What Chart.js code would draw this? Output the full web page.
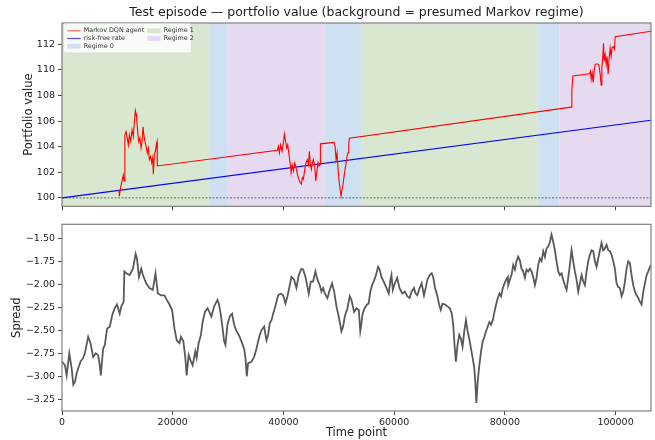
<!DOCTYPE html>
<html lang="en">
<head>
<meta charset="UTF-8">
<title>Test episode - portfolio value</title>
<style>
    * { margin: 0; padding: 0; }
    body { background: #fff; width: 655px; height: 440px; position: relative; overflow: hidden; }
    #top { position: absolute; left: 0; top: 0; }
    #bottom { position: absolute; left: 0; top: 215px; }
</style>
</head>
<body>
<canvas id="top" width="655" height="215"></canvas>
<canvas id="bottom" width="655" height="225"></canvas>
<script src="https://cdn.jsdelivr.net/npm/chart.js@4.4.0/dist/chart.umd.min.js"></script>
<script>
    // portfolio value of the agent (time point, value)
    var agentT = [10300, 10360, 10600, 10840, 11080, 11200, 11330, 11380, 11570, 11800, 11990, 12170, 12410, 12650, 12890,
        13070, 13250, 13370, 13490, 13680, 13860, 14090, 14280, 14460, 14640, 14820, 15000, 15180, 15420, 15600, 15780,
        16020, 16210, 16390, 16500, 16680, 16860, 17040, 17170, 17220,
        38910, 39090, 39270, 39510, 39750, 39990, 40170, 40350, 40600, 40780, 40960, 41200, 41380, 41560, 41800, 42050,
        42280, 42520, 42770, 43010, 43240, 43420, 43600, 43860, 44090, 44330, 44510, 44690, 44870, 45050, 45230, 45410,
        45660, 45840, 46020, 46260, 46440, 46620, 46680, 49150, 49330, 49510, 49690, 49870, 50050, 50230, 50420, 50600,
        50780, 50960, 51140, 51320, 51500, 51680, 51800, 51920,
        91980, 92100, 92280, 95290, 95470, 95590, 95770, 95950, 96130, 96310, 96610, 96980, 97220, 97400, 97520, 97700,
        97820, 97940, 98120, 98300, 98480, 98660, 98840, 99020, 99200, 99380, 99620, 99800, 99930, 106400];
    var agentV = [100.59, 100.13, 100.82, 101.33, 101.79, 101.33, 101.79, 104.91, 105.17, 104.66, 104.14, 104.91, 104.40, 105.30, 104.79,
        105.94, 106.83, 106.58, 106.19, 105.17, 104.40, 104.66, 103.89, 104.40, 105.56, 104.79, 104.40, 104.02, 103.51, 103.89, 102.99,
        103.25, 102.74, 103.12, 101.84, 103.38, 103.64, 104.14, 104.40, 102.49,
        103.71, 104.02, 103.51, 104.14, 103.64, 104.27, 104.99, 104.53, 103.89, 104.14, 103.51, 102.74, 101.97, 102.61, 102.10, 102.74,
        102.36, 101.84, 101.46, 101.20, 101.07, 101.59, 101.46, 102.23, 102.74, 102.99, 102.61, 103.64, 102.61, 102.23, 102.74, 102.99,
        102.49, 101.33, 101.97, 102.74, 102.49, 102.61, 104.22, 104.33, 104.02, 102.99, 103.51, 102.23, 101.33, 100.69, 100.13, 100.69,
        101.07, 101.72, 102.23, 102.74, 103.25, 103.51, 104.27, 104.66,
        107.09, 108.37, 109.52, 109.70, 109.90, 109.26, 109.78, 109.01, 109.90, 110.41, 110.47, 110.41, 109.65, 108.80, 110.16, 111.05,
        112.08, 110.67, 111.18, 110.41, 111.05, 109.65, 110.93, 111.70, 111.05, 111.74, 111.82, 111.64, 112.59, 113.02];

    var riskFreeT = [0, 106400];
    var riskFreeV = [100, 106.06];

    var baseT = [0, 106400];
    var baseV = [100, 100];

    // presumed regime per stretch of time
    var regimeStart = [0, 26560, 29940, 47700, 54150, 85890, 89870];
    var regimeEnd = [26560, 29940, 47700, 54150, 85890, 89870, 106400];
    var regimeId = [1, 0, 2, 0, 1, 0, 2];

    // spread
    var spreadT = [0, 540, 840, 1320, 1740, 2040, 2340, 2640, 2940, 3350, 3830, 4130, 4730, 5150, 5630, 6110,
        6530, 6830, 7010, 7430, 7730, 8150, 8630, 9100, 9520, 9940, 10420, 10720, 11140, 11260, 11620, 12220,
        12820, 13300, 13540, 13900, 14320, 14620, 15210, 15810, 16410, 16890, 17310, 17910, 18510, 18930, 19410, 19890,
        20310, 20730, 21210, 21500, 21920, 22280, 22520, 22880, 23300, 23600, 24080, 24320, 24680, 25100, 25400, 25820,
        26300, 27000, 27480, 28090, 28330, 28690, 28930, 29290, 29530, 29890, 30310, 30730, 31100, 31520, 31940, 32420,
        32900, 33140, 33380, 33620, 34230, 34710, 35130, 35430, 35730, 36030, 36510, 36940, 37240, 37540, 37840, 38140,
        38440, 39040, 39520, 39950, 40370, 40730, 41150, 41450, 41930, 42350, 42770, 43260, 43560, 43980, 44340, 44580,
        44940, 45360, 45780, 46150, 46570, 46870, 47170, 47470, 47950, 48370, 48790, 49160, 49580, 49880, 50180, 50480,
        50780, 51080, 51560, 51990, 52290, 52770, 53190, 53620,
        53880, 54060, 54300, 54670, 55090, 55390, 55700, 56000, 56300, 56730, 57090, 57330, 57700, 58120, 58550, 59030,
        59330, 59520, 59760, 60120, 60550, 60970, 61450, 61940, 62360, 62790, 63150, 63580, 63880, 64180, 64610, 64970,
        65390, 65700, 66000, 66420, 66790, 67090, 67390, 67820, 68120, 68420, 68730, 69210, 69640, 70060, 70420, 70670,
        70910, 71150, 71450, 71760, 72060, 72360, 72670, 72970, 73270, 73570, 73880, 74180, 74480, 74660, 74850, 75090,
        75390, 75700, 76000, 76300, 76600, 76910, 77210, 77510, 77820, 78120, 78420, 78720, 79030, 79330, 79630, 79940,
        80240, 80540,
        80600, 80900, 81210, 81510, 81810, 82110, 82410, 82710, 83010, 83310, 83620, 83920, 84220, 84520, 84820, 85120,
        85420, 85720, 86030, 86330, 86630, 86930, 87230, 87530, 87830, 88130, 88430, 88740, 89040, 89340, 89640, 89940,
        90240, 90540, 90840, 91150, 91450, 91750, 92050, 92350, 92650, 92950, 93250, 93560, 93860, 94160, 94460, 94760,
        95060, 95360, 95660, 95960, 96270, 96570, 96870, 97170, 97470, 97770, 98070, 98370, 98680, 98980, 99280, 99580,
        99880, 100180, 100480, 100780, 101090, 101390, 101690, 101990, 102290, 102590, 102890, 103190, 103500, 103800, 104100, 104400,
        104700, 105000, 105300, 105610, 105910, 106210, 106390];
    var spreadV = [-2.84, -2.88, -2.99, -2.75, -2.91, -3.09, -3.06, -2.97, -2.91, -2.84, -2.80, -2.75, -2.57, -2.64, -2.79, -2.75,
        -2.77, -2.88, -2.99, -2.70, -2.66, -2.48, -2.46, -2.33, -2.26, -2.22, -2.32, -2.24, -2.19, -1.86, -1.88, -1.90,
        -1.83, -1.67, -1.72, -1.92, -1.83, -1.90, -1.99, -2.04, -2.06, -1.88, -2.10, -2.12, -2.12, -2.17, -2.22, -2.28,
        -2.48, -2.61, -2.64, -2.57, -2.62, -2.80, -2.99, -2.77, -2.84, -2.88, -2.73, -2.80, -2.64, -2.55, -2.41, -2.30,
        -2.26, -2.35, -2.24, -2.17, -2.21, -2.33, -2.44, -2.62, -2.66, -2.44, -2.35, -2.32, -2.44, -2.51, -2.55, -2.62,
        -2.70, -2.80, -3.00, -2.86, -2.84, -2.79, -2.70, -2.62, -2.55, -2.50, -2.46, -2.61, -2.55, -2.42, -2.39, -2.32,
        -2.26, -2.12, -2.10, -2.12, -2.21, -2.13, -2.01, -1.92, -1.95, -2.04, -1.90, -1.83, -1.84, -1.92, -2.03, -2.10,
        -1.97, -1.97, -1.86, -1.95, -2.01, -2.08, -2.04, -2.10, -2.15, -2.06, -1.99, -2.08, -2.24, -2.32, -2.41, -2.51,
        -2.46, -2.35, -2.26, -2.13, -2.17, -2.30, -2.26, -2.28,
        -2.51, -2.44, -2.32, -2.26, -2.22, -2.21, -2.08, -2.01, -1.97, -1.90, -1.81, -1.83, -1.92, -1.97, -2.03, -2.10,
        -1.95, -1.90, -2.06, -1.99, -1.93, -2.04, -2.10, -2.08, -2.13, -2.15, -2.08, -2.04, -2.10, -2.12, -2.04, -1.99,
        -2.12, -2.04, -1.95, -1.90, -1.88, -1.93, -2.04, -2.13, -2.22, -2.28, -2.21, -2.22, -2.24, -2.26, -2.32, -2.44,
        -2.66, -2.84, -2.66, -2.55, -2.59, -2.68, -2.51, -2.39, -2.51, -2.59, -2.70, -2.80, -2.91, -3.06, -3.29, -3.06,
        -2.88, -2.73, -2.62, -2.57, -2.51, -2.46, -2.41, -2.44, -2.39, -2.30, -2.22, -2.15, -2.10, -2.13, -2.04, -1.99,
        -1.95, -1.92,
        -2.01, -1.95, -1.90, -1.79, -1.84, -1.75, -1.70, -1.74, -1.83, -1.86, -1.93, -1.84, -1.86, -1.83, -1.86, -1.92,
        -2.01, -1.93, -1.79, -1.72, -1.75, -1.64, -1.70, -1.61, -1.59, -1.54, -1.46, -1.54, -1.63, -1.75, -1.86, -1.90,
        -1.88, -1.95, -2.01, -2.06, -1.93, -1.79, -1.63, -1.75, -1.86, -1.95, -2.08, -1.99, -1.90, -1.97, -2.01, -1.86,
        -1.75, -1.68, -1.63, -1.64, -1.75, -1.81, -1.72, -1.63, -1.55, -1.63, -1.61, -1.57, -1.63, -1.64, -1.68, -1.75,
        -1.83, -1.99, -2.03, -2.04, -2.13, -2.08, -1.97, -1.83, -1.75, -1.77, -1.90, -2.01, -2.08, -2.12, -2.15, -2.19,
        -2.22, -2.08, -1.99, -1.90, -1.86, -1.81, -1.79];

    var xTicks = [0, 20000, 40000, 60000, 80000, 100000];

    var regimeColors = ['rgb(206,224,241)', 'rgb(216,232,208)', 'rgb(230,218,240)'];
    var regimeLabels = ['Regime 0', 'Regime 1', 'Regime 2'];

    Chart.defaults.font.family = "'DejaVu Sans', sans-serif";
    Chart.defaults.color = '#222';

    function points(ts, vs) {
        var out = [];
        for (var i = 0; i < ts.length; i++) out.push({ x: ts[i], y: vs[i] });
        return out;
    }

    function minusLabel(v, digits) {
        var s = Math.abs(v).toFixed(digits);
        return v < 0 ? '\u2212' + s : s;
    }

    var regimeBands = {
        id: 'regimeBands',
        beforeDatasetsDraw: function (chart) {
            var ctx = chart.ctx, a = chart.chartArea, xs = chart.scales.x;
            ctx.save();
            for (var i = 0; i < regimeId.length; i++) {
                var x0 = xs.getPixelForValue(regimeStart[i]);
                var x1 = xs.getPixelForValue(regimeEnd[i]);
                ctx.fillStyle = regimeColors[regimeId[i]];
                ctx.fillRect(x0, a.top, x1 - x0, a.bottom - a.top);
            }
            ctx.restore();
        }
    };

    var frame = {
        id: 'frame',
        afterDraw: function (chart) {
            var ctx = chart.ctx, a = chart.chartArea;
            ctx.save();
            ctx.strokeStyle = '#808080';
            ctx.lineWidth = 1.2;
            ctx.strokeRect(a.left, a.top, a.right - a.left, a.bottom - a.top);
            ctx.restore();
        }
    };

    // legend drawn inside the top axes, two columns like the original
    var boxLegend = {
        id: 'boxLegend',
        afterDraw: function (chart) {
            var ctx = chart.ctx, a = chart.chartArea;
            var x = a.left + 1.5, y = a.top + 0.5, w = 128, h = 29.5;
            ctx.save();
            ctx.fillStyle = 'rgba(255,255,255,0.8)';
            ctx.strokeStyle = '#d8d8d8';
            ctx.lineWidth = 0.8;
            ctx.beginPath();
            ctx.roundRect(x, y, w, h, 2);
            ctx.fill();
            ctx.stroke();

            var rows = [y + 7.3, y + 15, y + 22.6];
            var items = [
                { col: 0, row: 0, kind: 'line', color: 'rgba(255,0,0,0.6)', text: 'Markov DQN agent' },
                { col: 0, row: 1, kind: 'line', color: 'rgba(0,0,255,0.7)', text: 'risk-free rate' },
                { col: 0, row: 2, kind: 'patch', color: regimeColors[0], text: regimeLabels[0] },
                { col: 1, row: 0, kind: 'patch', color: regimeColors[1], text: regimeLabels[1] },
                { col: 1, row: 1, kind: 'patch', color: regimeColors[2], text: regimeLabels[2] }
            ];
            ctx.font = "6.4px 'DejaVu Sans', sans-serif";
            ctx.textBaseline = 'middle';
            items.forEach(function (it) {
                var sx = it.col === 0 ? x + 3.8 : x + 83.8;
                var ry = rows[it.row];
                if (it.kind === 'line') {
                    ctx.strokeStyle = it.color;
                    ctx.lineWidth = 1.2;
                    ctx.beginPath();
                    ctx.moveTo(sx, ry);
                    ctx.lineTo(sx + 13.4, ry);
                    ctx.stroke();
                } else {
                    ctx.fillStyle = it.color;
                    ctx.fillRect(sx, ry - 2.4, 13.4, 4.8);
                }
                ctx.fillStyle = '#333';
                ctx.fillText(it.text, sx + 16.4, ry);
            });
            ctx.restore();
        }
    };

    function xAxis(showLabels, height) {
        return {
            type: 'linear',
            min: 0,
            max: 106400,
            afterFit: function (s) { s.height = height; },
            afterBuildTicks: function (s) { s.ticks = xTicks.map(function (v) { return { value: v }; }); },
            grid: { display: true, drawOnChartArea: false, drawTicks: true, tickLength: 4, color: '#444', lineWidth: 1 },
            border: { display: false },
            ticks: {
                display: showLabels,
                autoSkip: false,
                maxRotation: 0,
                padding: 2,
                color: '#222',
                font: { size: 9.5 },
                callback: function (v) { return String(v); }
            },
            title: {
                display: showLabels,
                text: 'Time point',
                color: '#222',
                font: { size: 11.5 },
                padding: { top: 0, bottom: 0 }
            }
        };
    }

    new Chart(document.getElementById('top').getContext('2d'), {
        type: 'line',
        data: {
            datasets: [{
                label: 'Markov DQN agent',
                data: points(agentT, agentV),
                borderColor: 'red',
                borderWidth: 1.1
            }, {
                label: 'risk-free rate',
                data: points(riskFreeT, riskFreeV),
                borderColor: 'blue',
                borderWidth: 1.1
            }, {
                label: 'base',
                data: points(baseT, baseV),
                borderColor: '#808080',
                borderWidth: 1.2,
                borderDash: [2, 1.5]
            }]
        },
        options: {
            responsive: false,
            animation: false,
            devicePixelRatio: 1,
            layout: { padding: { left: 0, right: 4, top: 0, bottom: 0 } },
            elements: { point: { radius: 0 }, line: { tension: 0 } },
            scales: {
                x: xAxis(false, 6),
                y: {
                    min: 99.34,
                    max: 113.66,
                    afterFit: function (s) { s.width = 62; },
                    grid: { drawOnChartArea: false, tickLength: 4, color: '#444' },
                    border: { display: false },
                    ticks: { stepSize: 2, includeBounds: false, padding: 3, color: '#222', font: { size: 9.5 } },
                    title: { display: true, text: 'Portfolio value', color: '#222', font: { size: 11.5 }, padding: { top: 22, bottom: 0 } }
                }
            },
            plugins: {
                legend: { display: false },
                tooltip: { enabled: false },
                title: {
                    display: true,
                    fullSize: false,
                    text: 'Test episode \u2014 portfolio value (background = presumed Markov regime)',
                    color: '#222',
                    font: { size: 12.5, weight: 'normal' },
                    padding: { top: 5.5, bottom: 2.5 }
                }
            }
        },
        plugins: [regimeBands, frame, boxLegend]
    });

    new Chart(document.getElementById('bottom').getContext('2d'), {
        type: 'line',
        data: {
            datasets: [{
                label: 'Spread',
                data: points(spreadT, spreadV),
                borderColor: '#595959',
                borderWidth: 1.8
            }]
        },
        options: {
            responsive: false,
            animation: false,
            devicePixelRatio: 1,
            layout: { padding: { left: 0, right: 4, top: 9.3, bottom: 0 } },
            elements: { point: { radius: 0 }, line: { tension: 0 } },
            scales: {
                x: xAxis(true, 29),
                y: {
                    min: -3.377,
                    max: -1.348,
                    afterFit: function (s) { s.width = 62; },
                    grid: { drawOnChartArea: false, tickLength: 4, color: '#444' },
                    border: { display: false },
                    ticks: {
                        stepSize: 0.25, includeBounds: false, padding: 3, color: '#222', font: { size: 9.5 },
                        callback: function (v) { return minusLabel(v, 2); }
                    },
                    title: { display: true, text: 'Spread', color: '#222', font: { size: 11.5 }, padding: { top: 10, bottom: 0 } }
                }
            },
            plugins: { legend: { display: false }, tooltip: { enabled: false } }
        },
        plugins: [frame]
    });
</script>
</body>
</html>
